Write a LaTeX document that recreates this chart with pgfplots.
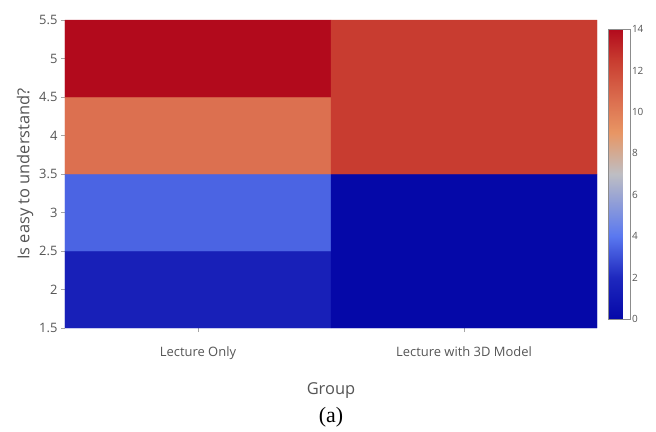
\documentclass[border=0pt]{standalone}
\usepackage{pgfplots}
\pgfplotsset{compat=1.18}
\usepackage{fontspec}
\setmainfont{Open Sans}
\newfontfamily\timesfont{Liberation Serif}
\definecolor{txt}{RGB}{85,85,85}
\begin{document}
\begin{tikzpicture}
\path[use as bounding box] (-65bp,-104bp) rectangle (591bp,328bp);
\begin{axis}[
  at={(0,0)}, anchor=south west,
  scale only axis, width=532bp, height=308bp,
  clip=false,
  xmin=-0.5, xmax=1.5, ymin=1.5, ymax=5.5,
  xtick={0,1}, xticklabels={Lecture Only, Lecture with 3D Model},
  ytick={1.5,2,2.5,3,3.5,4,4.5,5,5.5},
  yticklabels={1.5,2,2.5,3,3.5,4,4.5,5,5.5},
  xtick pos=bottom, ytick pos=left,
  /pgf/number format/assume math mode=true,
  axis line style={draw=none},
  tick align=outside, major tick length=4bp,
  tick style={color=black!35, line width=0.5pt},
  ticklabel style={font=\fontsize{13}{15}\selectfont, text=txt},
  xticklabel style={yshift=-11bp},
  yticklabel style={xshift=0bp},
  xlabel={Group},
  xlabel style={font=\fontsize{16.5}{19}\selectfont, text=txt, at={(axis description cs:0.5,0)}, anchor=center, yshift=-63bp},
  ylabel={Is easy to understand?},
  ylabel style={font=\fontsize{16.5}{19}\selectfont, text=txt, at={(axis description cs:-0.0752,0.5)}, anchor=center},
  colormap={cw}{rgb255(0)=(5,8,168) rgb255(4)=(30,40,190) rgb255(8)=(90,120,240) rgb255(14)=(190,190,195) rgb255(18)=(232,150,100) rgb255(21)=(220,112,80) rgb255(25)=(200,60,48) rgb255(28)=(178,10,28)},
  point meta min=0, point meta max=14,
  colorbar right,
  colorbar style={
    at={(parent axis.east)}, anchor=west, xshift=3bp,
    width=22bp, height=290bp,
    ytick={0,2,4,6,8,10,12,14},
    yticklabel style={font=\fontsize{10}{11}\selectfont, text=txt, xshift=-2bp},
    /pgf/number format/assume math mode=true,
    axis line style={draw=black!45, line width=0.6pt},
    major tick length=0pt,
  },
]
\addplot[matrix plot*, mesh/cols=2, mesh/rows=4, point meta=explicit] coordinates {
 (0,2) [1.5] (1,2) [0]
 (0,3) [3.5] (1,3) [0]
 (0,4) [10.5] (1,4) [12.5]
 (0,5) [14] (1,5) [12.5]
};
\node[font=\timesfont\fontsize{22}{24}\selectfont, anchor=center] at (axis description cs:0.5,0) [yshift=-89bp] {(a)};
\end{axis}
\end{tikzpicture}
\end{document}
